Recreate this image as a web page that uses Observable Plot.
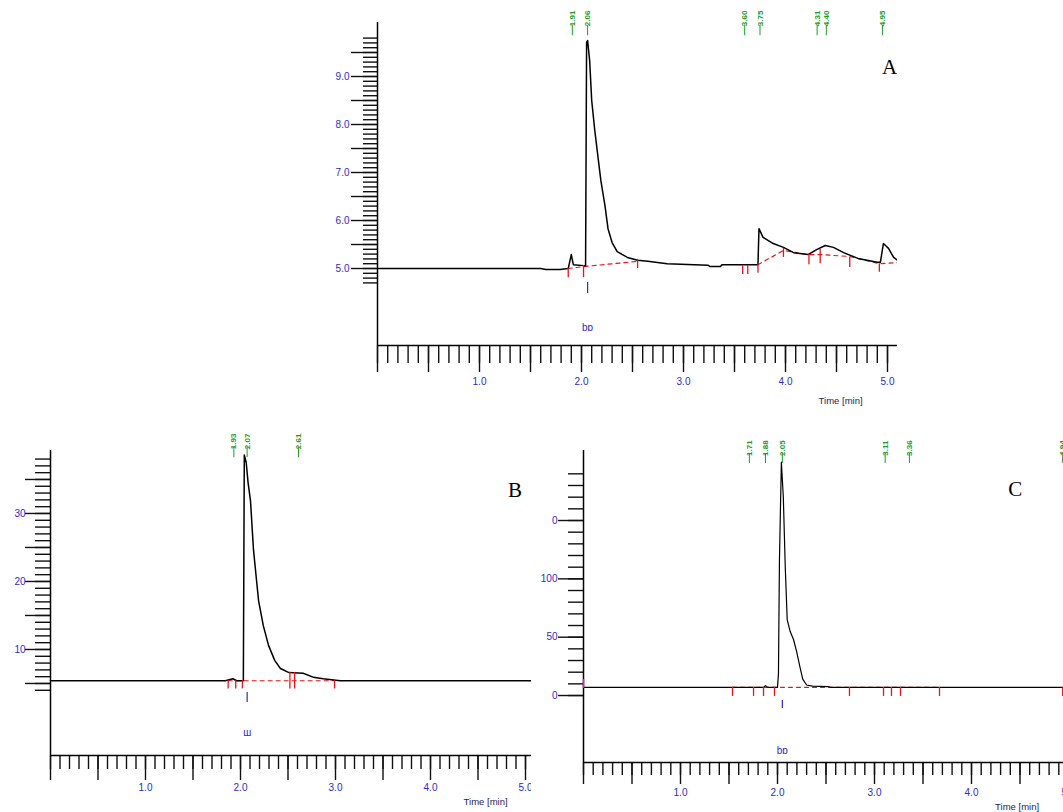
<!DOCTYPE html>
<html><head><meta charset="utf-8">
<script src="https://cdn.jsdelivr.net/npm/d3@7"></script>
<script src="https://cdn.jsdelivr.net/npm/@observablehq/plot@0.6"></script>
<style>
html,body{margin:0;padding:0;background:#fff;width:1063px;height:812px;overflow:hidden;position:relative}
.panel{position:absolute;overflow:hidden}
.panel svg{max-width:none;background:transparent}
</style></head><body>
<div id="A" class="panel" style="left:0;top:0;width:897px;height:420px"></div>
<div id="B" class="panel" style="left:0;top:425px;width:531px;height:387px"></div>
<div id="C" class="panel" style="left:540px;top:425px;width:523px;height:387px"></div>
<script>
// ---------- Panel A ----------
const aTime   = [0,1.6,1.65,1.79,1.87,1.90,1.92,2.02,2.04,2.05,2.06,2.08,2.10,2.13,2.16,2.19,2.23,2.26,2.30,2.35,2.45,2.55,2.65,2.84,3.24,3.26,3.36,3.38,3.73,3.74,3.78,3.88,3.98,4.08,4.22,4.31,4.39,4.47,4.57,4.71,4.90,4.93,4.96,5.01,5.06,5.10];
const aSignal = [5.0,5.0,4.98,4.98,5.0,5.29,5.08,5.06,5.06,9.71,9.75,9.33,8.5,7.88,7.35,6.83,6.31,5.83,5.54,5.35,5.23,5.17,5.15,5.10,5.07,5.04,5.04,5.08,5.08,5.83,5.65,5.52,5.44,5.33,5.29,5.40,5.48,5.44,5.33,5.21,5.13,5.13,5.52,5.42,5.23,5.17];
const aBase1T = [1.87,2.02,2.55], aBase1V = [5.0,5.04,5.15];
const aBase2T = [3.73,3.98,4.22,4.34,4.63,4.92,5.10], aBase2V = [5.08,5.375,5.29,5.29,5.25,5.10,5.125];
const aMarkT   = [1.87,2.02,2.55,3.58,3.63,3.73,3.98,4.23,4.34,4.63,4.92];
const aMarkTop = [5.0,5.06,5.19,5.06,5.06,5.10,5.42,5.29,5.40,5.23,5.10];
const aMarkBot = [4.81,4.81,5.0,4.875,4.875,4.90,5.23,5.08,5.10,5.02,4.92];
const aPeakT = [1.91,2.06,3.60,3.75,4.31,4.40,4.95];
const aPeakLabels = ["1.91","2.06","3.60","3.75","4.31","4.40","4.95"];
const aInjT = [2.06];
const aYTickVals = [5,6,7,8,9], aYTickLabels = ["5.0","6.0","7.0","8.0","9.0"];

// ---------- Panel B ----------
const bTime   = [0,1.84,1.92,1.96,2.03,2.04,2.06,2.08,2.105,2.137,2.19,2.24,2.295,2.36,2.42,2.51,2.66,2.77,2.87,3.05,5.16];
const bSignal = [5.4,5.4,5.7,5.4,5.4,38.6,37.5,34.5,31.9,24.6,17.2,13.5,10.6,8.4,7.2,6.6,6.5,5.9,5.7,5.4,5.4];
const bBaseT = [1.87,2.99], bBaseV = [5.4,5.4];
const bMarkT   = [1.87,1.95,2.02,2.52,2.57,2.99];
const bMarkTop = [5.4,5.4,5.4,6.6,6.6,5.4];
const bMarkBot = [4.2,4.2,4.2,4.2,4.2,4.2];
const bPeakT = [1.93,2.07,2.61];
const bPeakLabels = ["1.93","2.07","2.61"];
const bInjT = [2.07];
const bYTickVals = [10,20,30], bYTickLabels = ["10","20","30"];

// ---------- Panel C ----------
const cTime   = [0,1.856,1.876,1.90,2.00,2.01,2.02,2.04,2.06,2.08,2.10,2.13,2.165,2.196,2.23,2.26,2.30,2.36,2.52,2.55,5.2];
const cSignal = [7,7,8.5,7,7,19,116,200,170,110,65,55,48,38,25,14,9,8,7.7,7,7];
const cBaseT = [1.536,3.67], cBaseV = [7,7];
const cMarkT   = [1.536,1.753,1.856,1.969,2.742,3.093,3.175,3.268,3.67,4.94];
const cMarkTop = [7,7,7,7,7,7,7,7,7,7];
const cMarkBot = [-0.8,-0.8,-0.8,-0.8,-0.8,-0.8,-0.8,-0.8,-0.8,-0.8];
const cPeakT = [1.71,1.876,2.05,3.11,3.36,4.94];
const cPeakLabels = ["1.71","1.88","2.05","3.11","3.36","4.94"];
const cInjT = [2.05];
const cYTickVals = [0,50,100,150], cYTickLabels = ["0","50","100","0"];

const xTickVals = [1,2,3,4,5], xTickLabels = ["1.0","2.0","3.0","4.0","5.0"];

const GREEN = "#1f9a27", RED = "#e8141b", BLUE = "#2c2cc0";

function buildPanel(c) {
  const curve = c.time.map((t, i) => ({t, v: c.signal[i]}));
  const base = c.baseSegs.flatMap((s, k) => s.t.map((t, i) => ({t, v: s.v[i], k})));
  const marks = c.markT.map((t, i) => ({t, top: c.markTop[i], bot: c.markBot[i]}));
  const peaks = c.peakT.map((t, i) => ({t, label: c.peakLabels[i]}));
  const [y0] = c.yDomain;
  const xMinor = d3.range(0, c.xMinorN + 1).map(i => i / 10);
  const xMajor = d3.range(0, 11).map(i => i / 2);
  const lab = (vals, labels) => d => { const i = vals.findIndex(v => Math.abs(v - d) < 1e-9); return i >= 0 ? labels[i] : ""; };
  return Plot.plot({
    width: c.width, height: c.height,
    marginTop: c.mt, marginBottom: c.mb, marginLeft: c.ml, marginRight: c.mr,
    x: {domain: c.xDomain, label: null},
    y: {domain: c.yDomain, label: null},
    style: {fontFamily: "Liberation Sans, Arial, sans-serif", fontSize: "10px", background: "transparent", overflow: "hidden"},
    marks: [
      Plot.axisX(xMinor, {anchor: "bottom", tickSize: c.xMinorSize, tickFormat: () => "", stroke: "#111", strokeWidth: 1.4, label: null}),
      Plot.axisX(xMajor, {anchor: "bottom", tickSize: c.xMajorSize, tickFormat: () => "", stroke: "#111", strokeWidth: 1.4, label: null}),
      Plot.axisX(xTickVals, {anchor: "bottom", tickSize: 0, tickPadding: c.xPad, tickFormat: lab(xTickVals, xTickLabels), fill: BLUE, fontSize: 10, label: null}),
      Plot.axisY(c.yMinor, {anchor: "left", tickSize: c.yMinorSize, tickFormat: () => "", stroke: "#111", strokeWidth: 1.4, label: null}),
      Plot.axisY(c.yMajor, {anchor: "left", tickSize: c.yMajorSize, tickFormat: () => "", stroke: "#111", strokeWidth: 1.4, label: null}),
      Plot.axisY(c.yTickVals, {anchor: "left", tickSize: 0, tickPadding: c.yPad, tickFormat: lab(c.yTickVals, c.yTickLabels), fill: BLUE, fontSize: 10, label: null}),
      Plot.ruleX([0], {stroke: "#000", strokeWidth: 1.5}),
      Plot.ruleY([y0], {stroke: "#000", strokeWidth: 1.5}),
      Plot.line(base, {x: "t", y: "v", z: "k", stroke: RED, strokeWidth: 1.2, strokeDasharray: "4,4"}),
      Plot.line(curve, {x: "t", y: "v", stroke: "#000", strokeWidth: c.lineWidth}),
      Plot.ruleX(marks, {x: "t", y1: "top", y2: "bot", stroke: RED, strokeWidth: 1.3}),
      Plot.ruleX(peaks, {x: "t", y1: () => c.peakLineTop, y2: () => c.peakLineBot, stroke: GREEN, strokeWidth: 1}),
      Plot.text(peaks, {x: "t", y: () => c.peakLabelY, text: "label", rotate: -90, fill: GREEN, fontSize: 8, fontWeight: "bold"}),
      Plot.ruleX(c.injT, {x: d => d, y1: () => c.injTop, y2: () => c.injBot, stroke: BLUE, strokeWidth: 1.2}),
      Plot.text(c.injT, {x: d => d, y: () => c.injLabelY, text: () => c.injLabel, fill: BLUE, fontSize: 10}),
      ...(c.extra || []),
      Plot.text([c.letter], {x: () => c.letterX, y: () => c.letterY, text: d => d, fontFamily: "Liberation Serif, Times New Roman, serif", fontSize: 21, fill: "#000"}),
      Plot.text(["Time [min]"], {x: () => c.timeX, y: () => y0, dy: c.timeDy, text: d => d, fontSize: 9.5, fill: "#1c1c5a"})
    ]
  });
}

document.getElementById("A").append(buildPanel({
  time: aTime, signal: aSignal, baseSegs: [{t: aBase1T, v: aBase1V}, {t: aBase2T, v: aBase2V}],
  markT: aMarkT, markTop: aMarkTop, markBot: aMarkBot, peakT: aPeakT, peakLabels: aPeakLabels, injT: aInjT,
  width: 897, height: 420, mt: 22, mb: 75, ml: 377, mr: 0,
  xDomain: [0, 520 / 102], yDomain: [3.396, 10.125], xMinorN: 51,
  xMinorSize: 18, xMajorSize: 27, xPad: 32,
  yMinor: d3.range(47, 99).map(i => i / 10), yMajor: d3.range(10, 20).map(i => i / 2),
  yTickVals: aYTickVals, yTickLabels: aYTickLabels, yMinorSize: 14, yMajorSize: 26, yPad: 28,
  lineWidth: 1.5, peakLineTop: 10.06, peakLineBot: 9.85, peakLabelY: 10.21,
  injTop: 4.71, injBot: 4.48, injLabelY: 3.77, injLabel: "bɒ",
  letter: "A", letterX: 5.02, letterY: 9.19, timeX: 4.54, timeDy: 55
}));

document.getElementById("B").append(buildPanel({
  time: bTime, signal: bSignal, baseSegs: [{t: bBaseT, v: bBaseV}],
  markT: bMarkT, markTop: bMarkTop, markBot: bMarkBot, peakT: bPeakT, peakLabels: bPeakLabels, injT: bInjT,
  width: 540, height: 387, mt: 25, mb: 57, ml: 50, mr: 0,
  xDomain: [0, 490 / 95], yDomain: [-5.59, 39.26], xMinorN: 51,
  xMinorSize: 14, xMajorSize: 25, xPad: 28,
  yMinor: d3.range(4, 39), yMajor: d3.range(5, 40, 5),
  yTickVals: bYTickVals, yTickLabels: bYTickLabels, yMinorSize: 15, yMajorSize: 25, yPad: 25,
  lineWidth: 1.5, peakLineTop: 39.7, peakLineBot: 38.2, peakLabelY: 40.6,
  injTop: 3.68, injBot: 2.2, injLabelY: -2.2, injLabel: "ш",
  letter: "B", letterX: 4.89, letterY: 33.4, timeX: 4.58, timeDy: 46
}));

document.getElementById("C").append(buildPanel({
  time: cTime, signal: cSignal, baseSegs: [{t: cBaseT, v: cBaseV}],
  markT: cMarkT, markTop: cMarkTop, markBot: cMarkBot, peakT: cPeakT, peakLabels: cPeakLabels, injT: cInjT,
  width: 560, height: 387, mt: 25, mb: 50, ml: 43, mr: 13,
  xDomain: [0, 504 / 97], yDomain: [-57.4, 210], xMinorN: 51,
  xMinorSize: 13, xMajorSize: 22, xPad: 26,
  yMinor: d3.range(0, 200, 10), yMajor: [0, 50, 100, 150],
  yTickVals: cYTickVals, yTickLabels: cYTickLabels, yMinorSize: 15, yMajorSize: 25, yPad: 26,
  lineWidth: 1.2, peakLineTop: 207.4, peakLineBot: 198.8, peakLabelY: 212,
  injTop: -4.3, injBot: -11.1, injLabelY: -47, injLabel: "bɒ",
  letter: "C", letterX: 4.45, letterY: 176.5, timeX: 4.47, timeDy: 44,
  extra: [Plot.ruleX([0], {y1: () => 6, y2: () => 13.7, stroke: "#d020d0", strokeWidth: 1.5})]
}));
</script>
</body></html>
